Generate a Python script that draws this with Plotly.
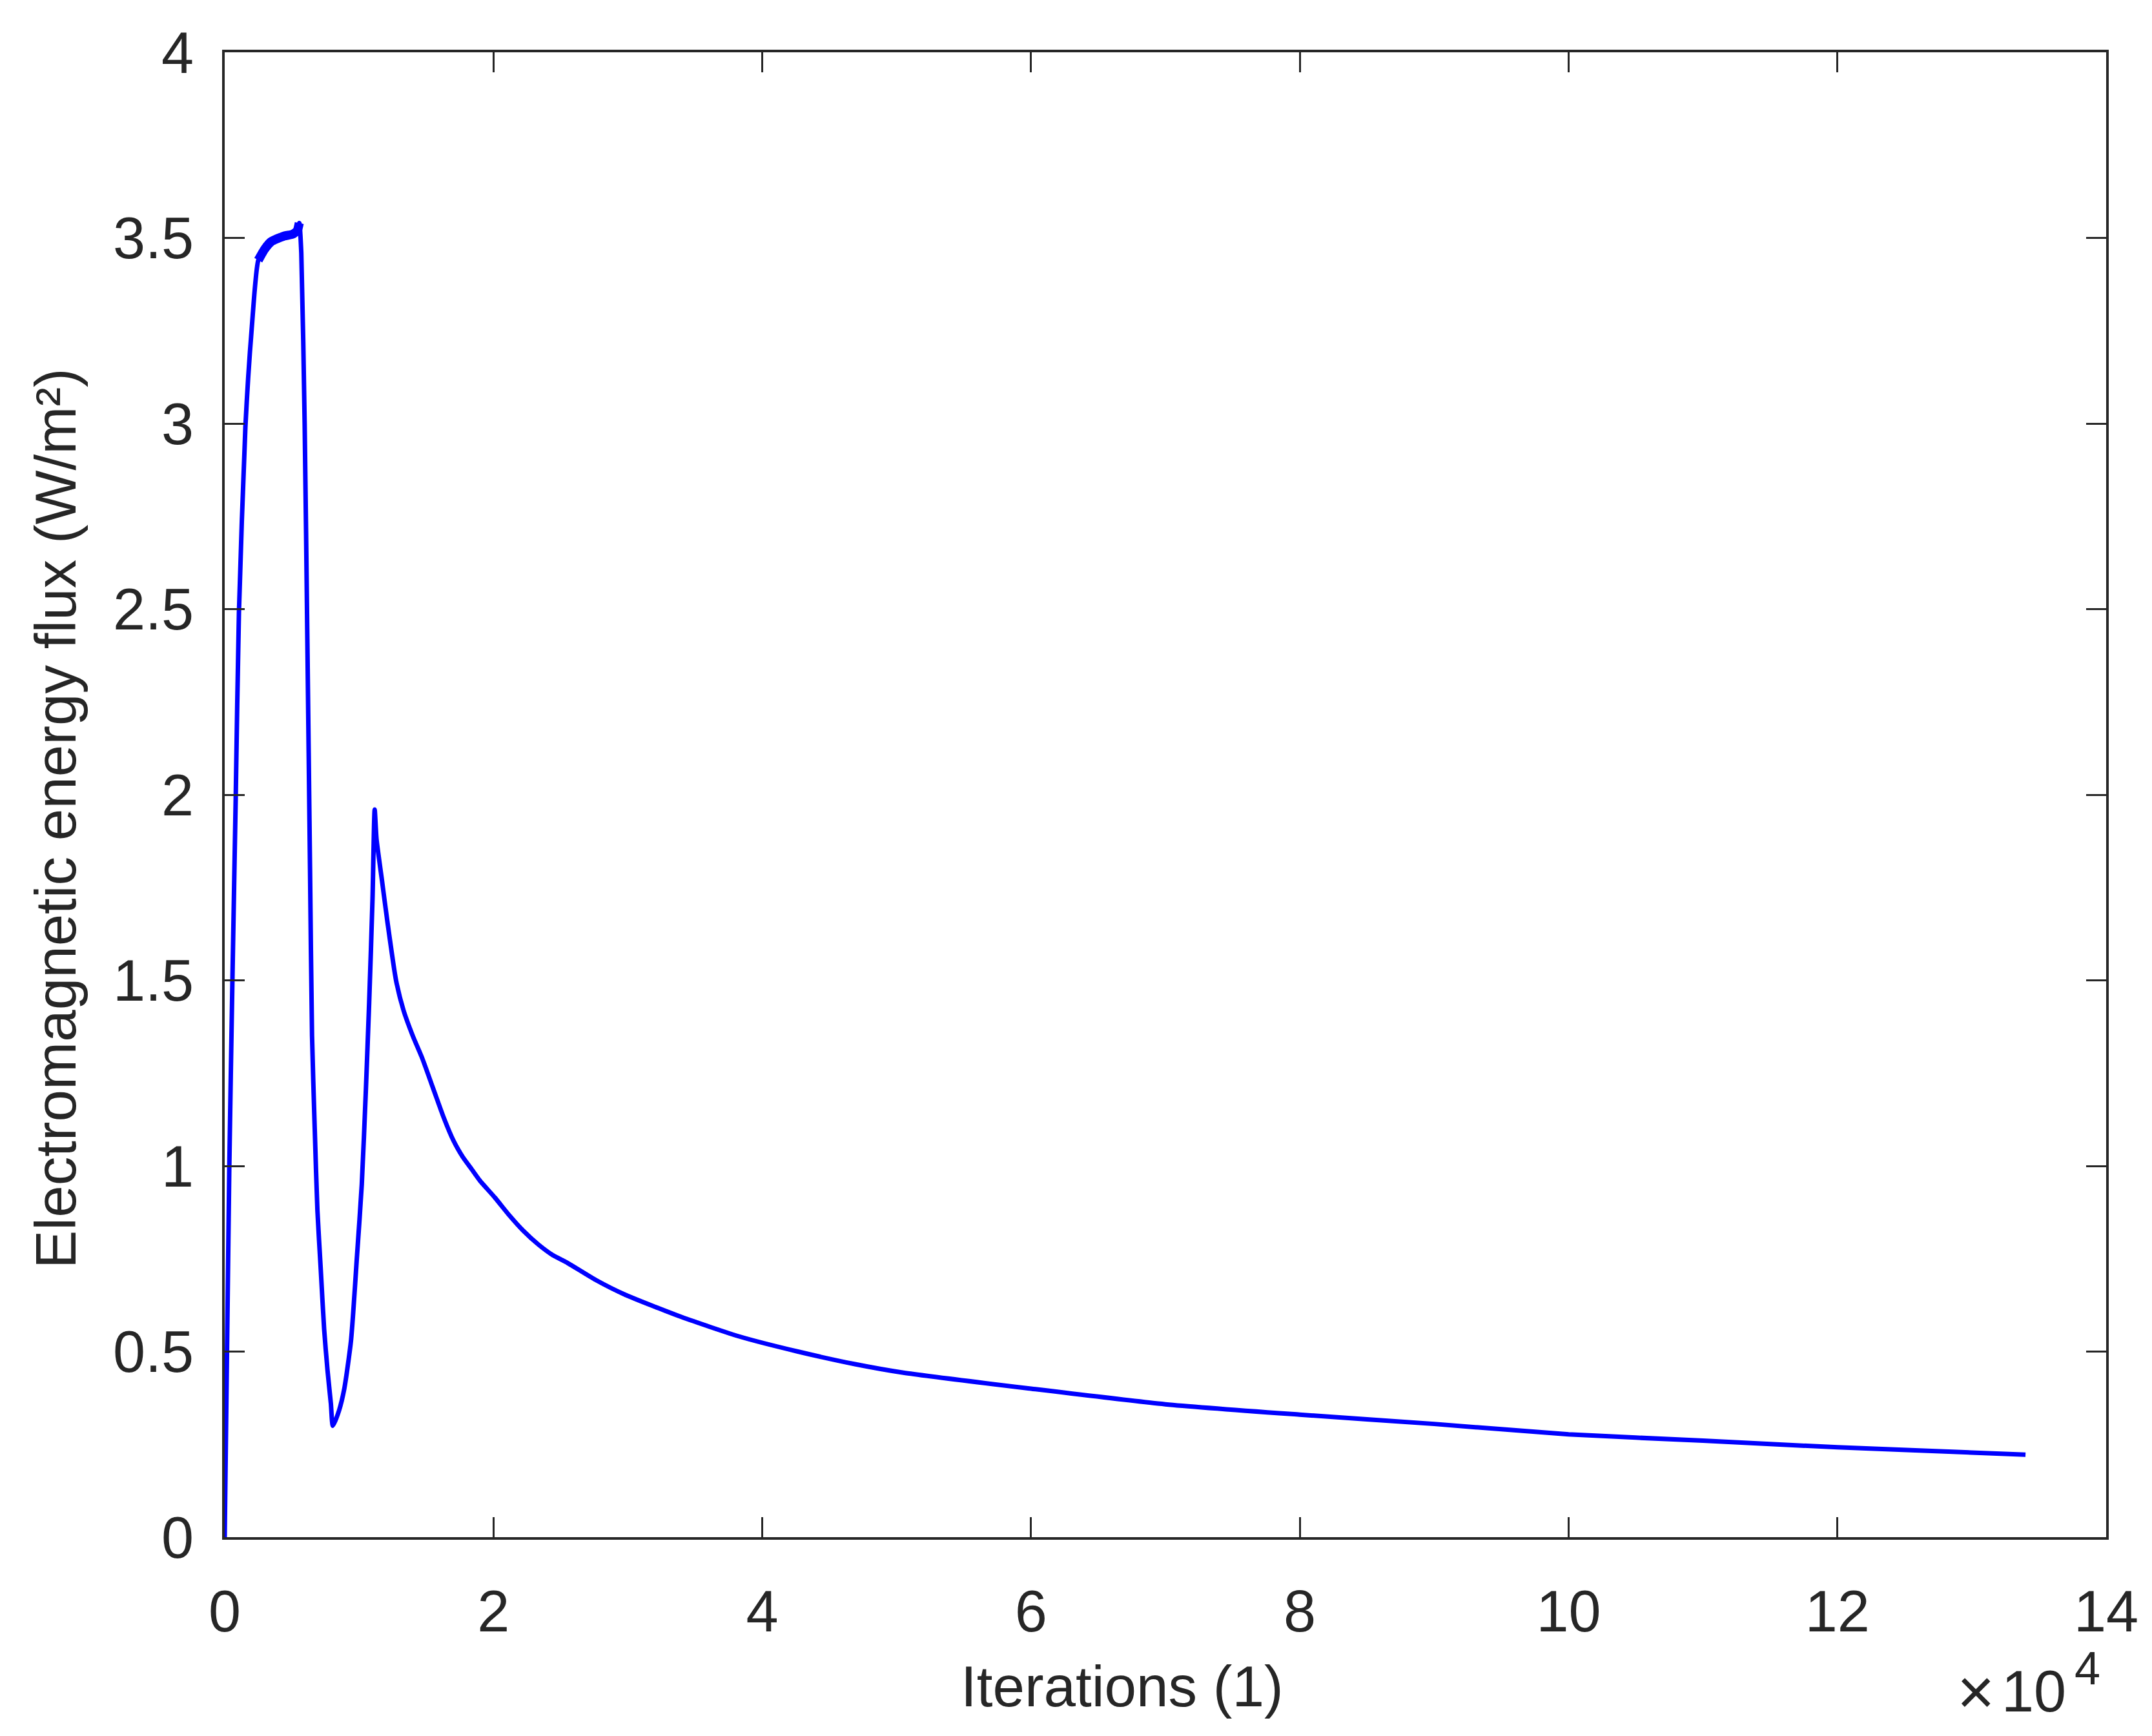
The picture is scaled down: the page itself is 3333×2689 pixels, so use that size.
import plotly.graph_objects as go

# ---- data ----
iterations = [0, 340, 580, 820, 1060, 1540, 2020, 2500, 2980, 3460, 4420, 5050, 5400, 5550,
              5700, 5950, 6150, 6350, 6500, 6700, 6900, 7150, 7400, 7650, 7900, 8050,
              8500, 8900, 9400, 9850, 10200, 10500, 10750, 11000, 11160,
              11300, 11700, 12100, 12750, 13300, 14000, 14700, 15500, 16300, 17000, 17700,
              18400, 19000, 20100, 21200, 22200, 23350, 24400, 25500, 27600, 29800, 34000,
              38350, 42650, 46900, 50500, 60000, 70000, 80000, 90000, 100000, 110000,
              120000, 130000, 134000]
flux = [0.0, 0.99, 1.51, 1.99, 2.49, 2.99, 3.26, 3.44, 3.47, 3.49, 3.505, 3.51, 3.52, 3.54,
        3.46, 3.0, 2.42, 1.8, 1.35, 1.1, 0.88, 0.72, 0.56, 0.45, 0.36, 0.30,
        0.34, 0.40, 0.53, 0.76, 0.95, 1.2, 1.44, 1.72, 1.96,
        1.88, 1.77, 1.66, 1.50, 1.42, 1.35, 1.29, 1.21, 1.13, 1.07, 1.025,
        0.99, 0.96, 0.915, 0.866, 0.826, 0.788, 0.76, 0.739, 0.693, 0.653, 0.593,
        0.54, 0.50, 0.466, 0.443, 0.40, 0.358, 0.33, 0.305, 0.277, 0.26,
        0.242, 0.228, 0.222]

x_tick_vals = [0, 20000, 40000, 60000, 80000, 100000, 120000, 140000]
x_tick_text = ["0", "2", "4", "6", "8", "10", "12", "14"]
y_tick_vals = [0, 0.5, 1, 1.5, 2, 2.5, 3, 3.5, 4]
y_tick_text = ["0", "0.5", "1", "1.5", "2", "2.5", "3", "3.5", "4"]

x_title = "Iterations (1)"
y_title = "Electromagnetic energy flux (W/m²)"
exponent_times = "×"
exponent_base = "10"
exponent_power = "4"

# ---- figure (page has an 8px body margin) ----
OFF = 8
W, H = 3333 - 2 * OFF, 2689 - 2 * OFF
L, R, T, B = 348 - OFF, 3262 - OFF, 81 - OFF, 2381 - OFF
axis_color = "#262626"
font_family = "Liberation Sans, Arial, Helvetica, sans-serif"

plateau_x = [x for x in iterations if 2400 <= x <= 5600]
plateau_y = [flux[i] for i, x in enumerate(iterations) if 2400 <= x <= 5600]

fig = go.Figure()
fig.add_trace(go.Scatter(x=iterations, y=flux, mode="lines",
                         line=dict(color="#0000FF", width=7, shape="spline", smoothing=0.6),
                         showlegend=False))
fig.add_trace(go.Scatter(x=plateau_x, y=plateau_y, mode="lines",
                         line=dict(color="#0000FF", width=14, shape="spline", smoothing=0.6),
                         showlegend=False))

axis_common = dict(
    showline=True, linecolor=axis_color, linewidth=4, mirror="ticks",
    ticks="inside", ticklen=31, tickwidth=3, tickcolor=axis_color,
    showgrid=False, zeroline=False,
    tickfont=dict(family=font_family, size=90, color=axis_color),
)

fig.update_xaxes(range=[0, 140000], tickmode="array", tickvals=x_tick_vals,
                 ticktext=x_tick_text, ticklabelstandoff=34, **axis_common)
fig.update_yaxes(range=[0, 4], tickmode="array", tickvals=y_tick_vals,
                 ticktext=y_tick_text, ticklabelstandoff=26, **axis_common)

pw, ph = R - L, B - T
def px_x(p):  # page pixel -> paper coord
    return (p - OFF - L) / pw
def px_y(p):
    return (B - (p - OFF)) / ph

fig.add_annotation(text=x_title, xref="paper", yref="paper",
                   x=px_x(1738), y=px_y(2612), xanchor="center", yanchor="middle",
                   showarrow=False, font=dict(family=font_family, size=89, color=axis_color))
fig.add_annotation(text=y_title, xref="paper", yref="paper", textangle=-90,
                   x=px_x(86), y=px_y(1268), xanchor="center", yanchor="middle",
                   showarrow=False, font=dict(family=font_family, size=89, color=axis_color))
fig.add_annotation(text=exponent_times, xref="paper", yref="paper",
                   x=px_x(3060), y=px_y(2620), xanchor="center", yanchor="middle",
                   showarrow=False, font=dict(family=font_family, size=100, color=axis_color))
fig.add_annotation(text=exponent_base, xref="paper", yref="paper",
                   x=px_x(3202), y=px_y(2620), xanchor="right", yanchor="middle",
                   showarrow=False, font=dict(family=font_family, size=90, color=axis_color))
fig.add_annotation(text=exponent_power, xref="paper", yref="paper",
                   x=px_x(3211), y=px_y(2584), xanchor="left", yanchor="middle",
                   showarrow=False, font=dict(family=font_family, size=72, color=axis_color))

fig.update_layout(
    width=W, height=H, autosize=False,
    margin=dict(l=L, r=W - R, t=T, b=H - B, pad=0),
    paper_bgcolor="white", plot_bgcolor="white",
    font=dict(family=font_family, color=axis_color),
)

fig.write_html("out.html")
